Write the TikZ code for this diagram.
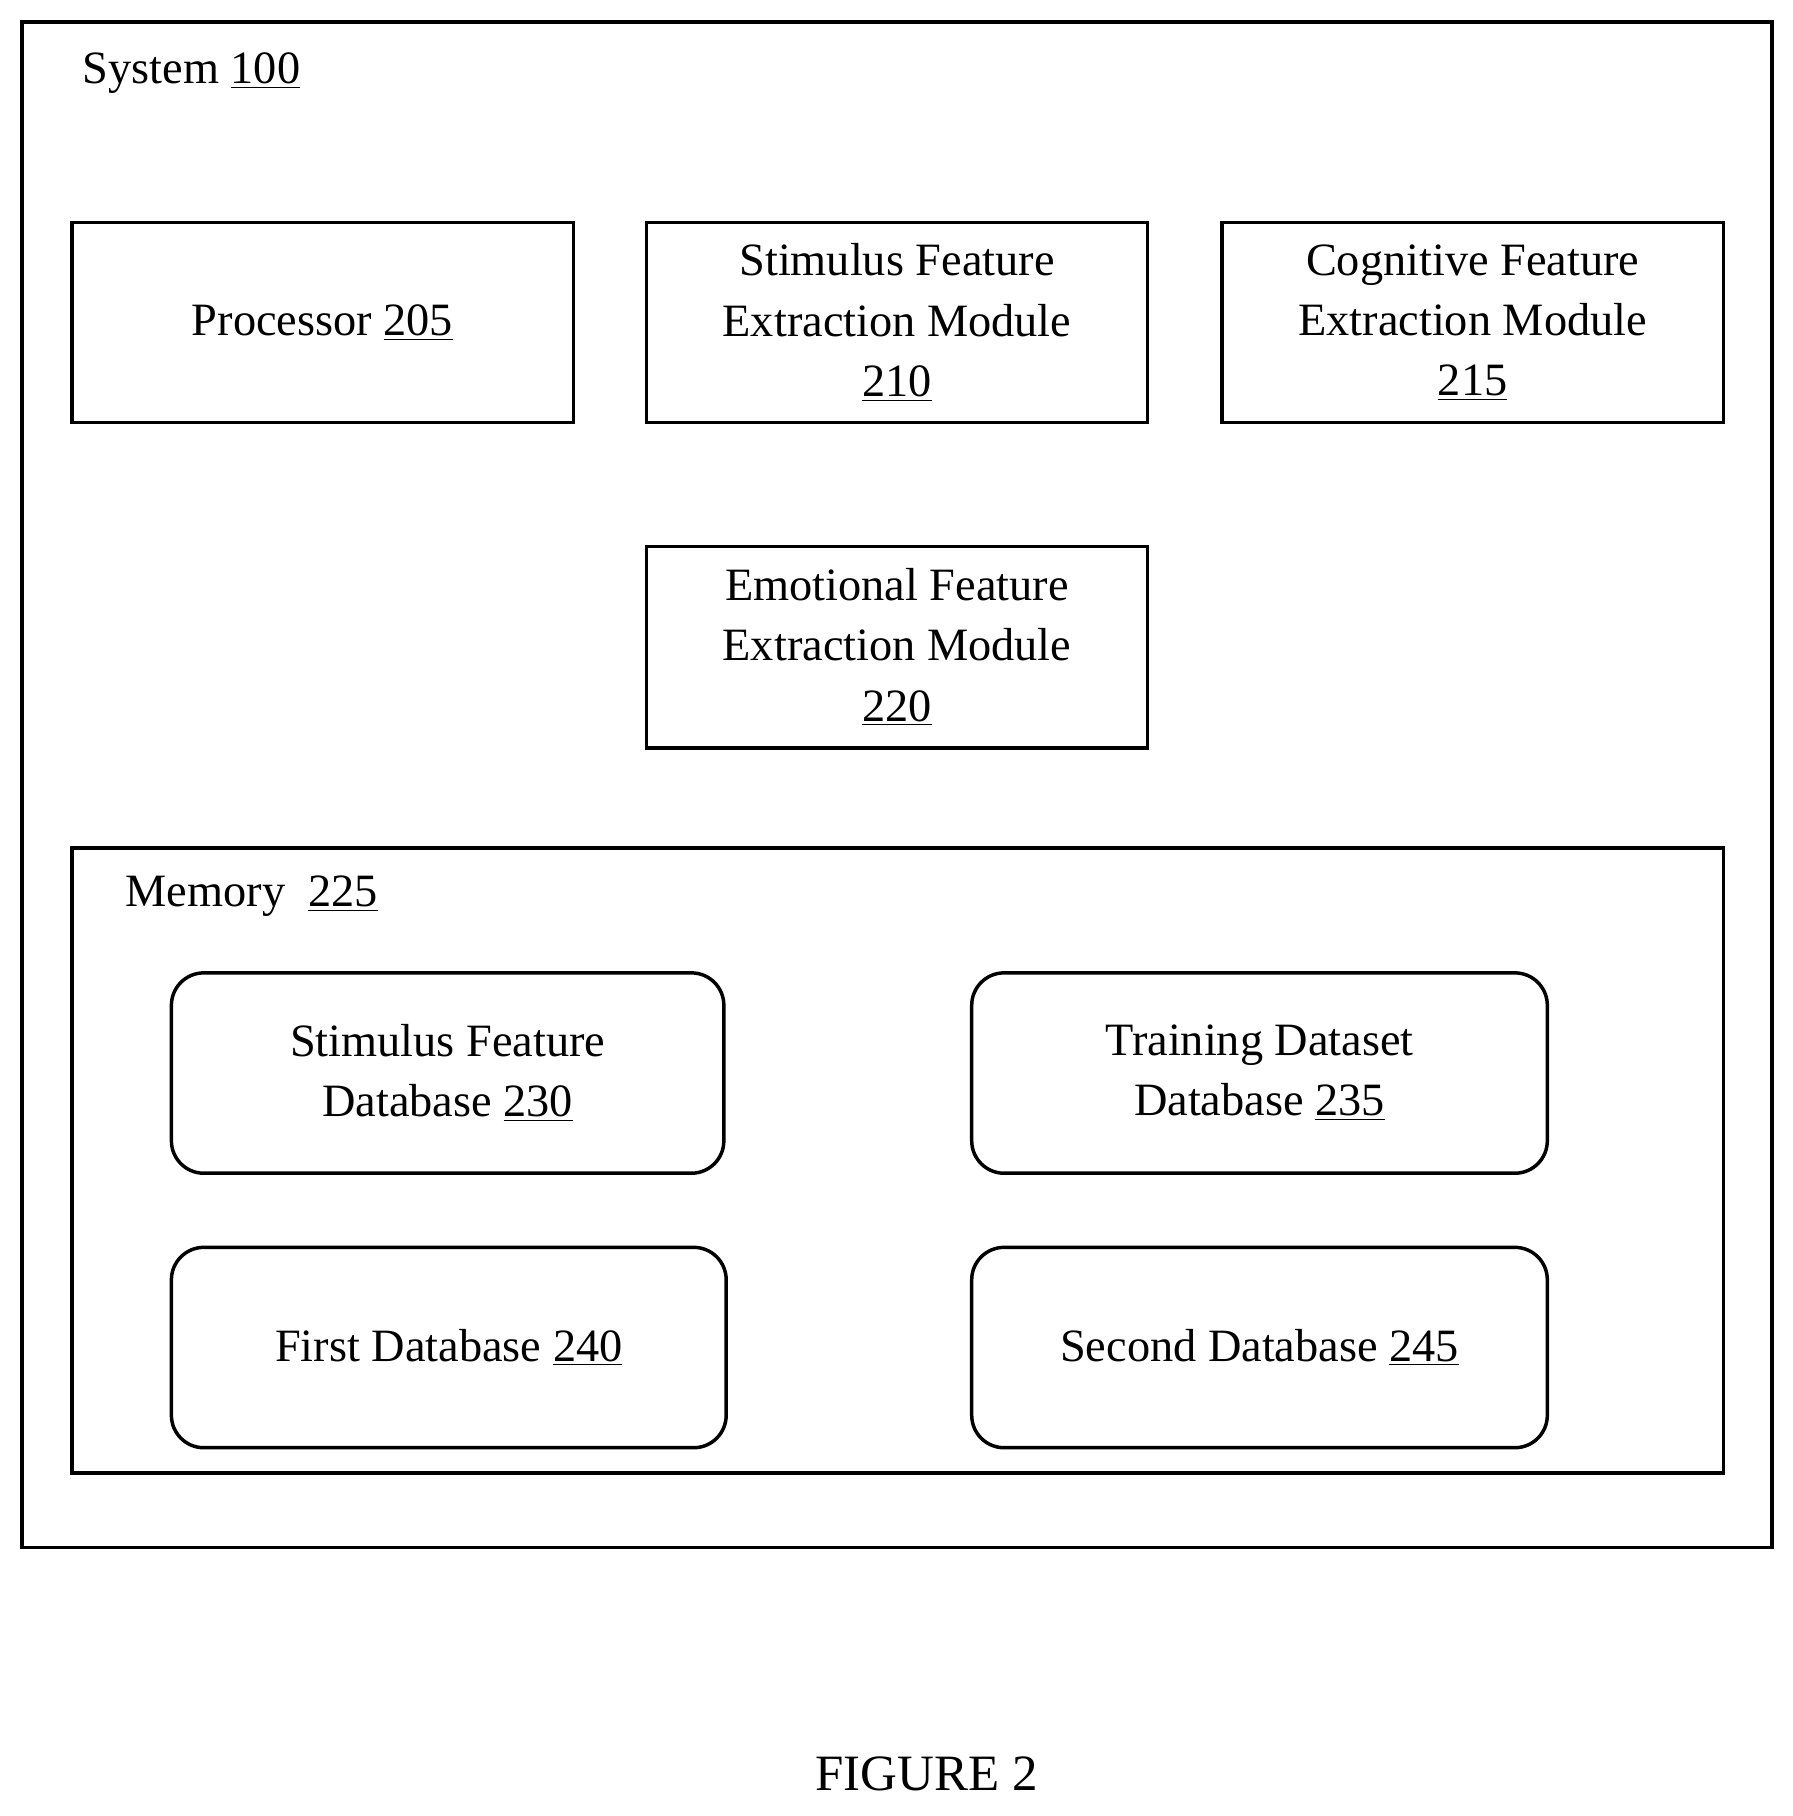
\documentclass[tikz,border=0pt]{standalone}
\usepackage{fontspec}
\setmainfont{Liberation Serif}
\begin{document}
\begin{tikzpicture}[x=0.5pt,y=-0.5pt,line width=1.5pt,
  box/.style={draw,align=center,font=\fontsize{20}{26}\selectfont},
  lbl/.style={anchor=base west,inner sep=0,font=\fontsize{20}{26}\selectfont}]
\useasboundingbox (0,0) rectangle (1548,1568);
\draw (19,19) rectangle (1530,1336);
\node[lbl] (sys) at (70,72) {System \underline{100}};
\draw (62,192) rectangle (495,365) node[midway,box,draw=none] (p) {Processor \underline{205}};
\draw (558,192) rectangle (991,365) node[midway,box,draw=none] (s) {Stimulus Feature\\Extraction Module\\\underline{210}};
\draw (1055,192) rectangle (1488,365) node[midway,box,draw=none] (c) {Cognitive Feature\\Extraction Module\\\underline{215}};
\draw (558,472) rectangle (991,646) node[midway,box,draw=none] (e) {Emotional Feature\\Extraction Module\\\underline{220}};
\draw (62,732) rectangle (1488,1272);
\node[lbl] (mem) at (107,783) {Memory \ \underline{225}};
\draw[rounded corners=28pt/2] (148,840) rectangle (625,1013) node[midway,box,draw=none] (d1) {Stimulus Feature\\Database \underline{230}};
\draw[rounded corners=14pt] (839,840) rectangle (1336,1013) node[midway,box,draw=none] (d2) {Training Dataset\\Database \underline{235}};
\draw[rounded corners=14pt] (148,1077) rectangle (627,1250) node[midway,box,draw=none] (d3) {First Database \underline{240}};
\draw[rounded corners=14pt] (839,1077) rectangle (1336,1250) node[midway,box,draw=none] (d4) {Second Database \underline{245}};
\node[font=\fontsize{22}{26}\selectfont] (fig) at (800,1532) {FIGURE 2};
\end{tikzpicture}
\end{document}
